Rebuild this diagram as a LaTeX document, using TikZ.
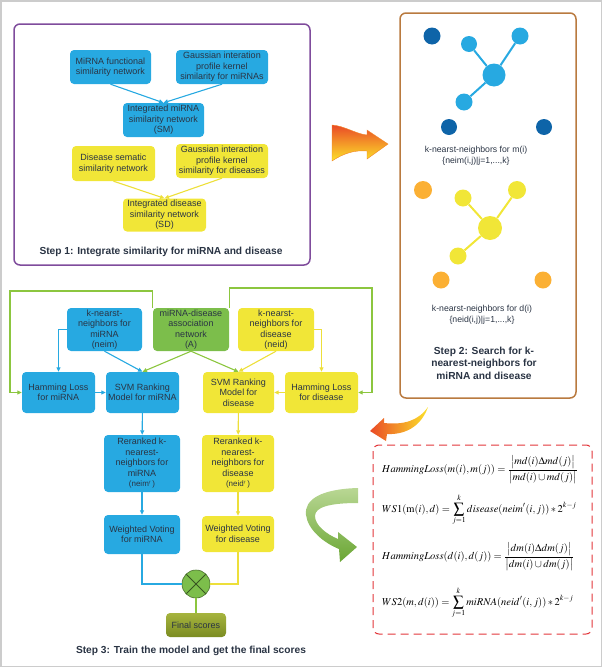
\documentclass[tikz,border=0pt]{standalone}
\usepackage{amsmath}
\usepackage{mathptmx}
\usepackage[no-math]{fontspec}
\setmainfont{Liberation Sans}
\usetikzlibrary{positioning, arrows.meta}

\definecolor{mblue}{HTML}{27A9E1}
\definecolor{dblue}{HTML}{0E64A8}
\definecolor{myellow}{HTML}{F1E637}
\definecolor{ylin}{HTML}{EDDF3A}
\definecolor{morange}{HTML}{FBB034}
\definecolor{mgreen}{HTML}{8CC63F}
\definecolor{agreen}{HTML}{7CBE4B}
\definecolor{mpurple}{HTML}{7F4C9C}
\definecolor{mbrown}{HTML}{B97A3F}
\definecolor{mred}{HTML}{E2363A}
\definecolor{txt}{HTML}{2A3444}
\definecolor{ored}{HTML}{EA4A26}
\definecolor{oyel}{HTML}{FCE22A}
\definecolor{lgreen}{HTML}{B9D794}
\definecolor{dgreen}{HTML}{6AA634}
\definecolor{olivet}{HTML}{A6B43E}
\definecolor{oliveb}{HTML}{7B8C22}

\begin{document}
\begin{tikzpicture}[x=1pt, y=-1pt,
    box/.style={rounded corners=4pt, align=center, inner sep=1pt, text=txt,
        font=\fontsize{9}{10.5}\selectfont},
    bbox/.style={box, fill=mblue},
    ybox/.style={box, fill=myellow},
    dot/.style={circle, inner sep=0pt},
    con/.style={line width=1.1pt, -{Triangle[length=4.5pt,width=4pt]}},
    bcon/.style={con, mblue},
    ycon/.style={con, ylin},
    gcon/.style={con, mgreen},
    steplabel/.style={font=\fontsize{10.2}{12.5}\selectfont\bfseries, text=txt, align=center},
    smalltxt/.style={font=\fontsize{8.7}{10.5}\selectfont, text=txt, align=center},
    formula/.style={anchor=west, inner sep=0pt, font=\fontsize{10.5}{12}\selectfont}]
    \useasboundingbox (0,0) rectangle (602,667);
    \draw[black!20, line width=1.5pt] (0.75,0.75) rectangle (601.25,666.25);

    % step 1
    \draw[mpurple, line width=1.5pt, rounded corners=6pt] (14,24) rectangle (310,265);
    \node[bbox, minimum width=81pt, minimum height=34pt] (mfun) at (110.5,67) {MiRNA functional\\similarity network};
    \node[bbox, minimum width=92pt, minimum height=34pt] (mgip) at (222,67) {Gaussian interation\\profile kernel\\similarity for miRNAs};
    \node[bbox, minimum width=81pt, minimum height=34pt] (sm) at (163.5,120) {Integrated miRNA\\similarity network\\(SM)};
    \node[ybox, minimum width=83pt, minimum height=35pt] (dsem) at (113.5,163.5) {Disease sematic\\similarity network};
    \node[ybox, minimum width=92pt, minimum height=34pt] (dgip) at (222,161) {Gaussian interaction\\profile kernel\\similarity for diseases};
    \node[ybox, minimum width=83pt, minimum height=33pt] (sd) at (164.5,215) {Integrated disease\\similarity network\\(SD)};
    \draw[bcon] (mfun.south) -- (sm.north);
    \draw[bcon] (mgip.south) -- (sm.north);
    \draw[ycon] (dsem.south) -- (sd.north);
    \draw[ycon] (dgip.south) -- (sd.north);
    \node[steplabel] (s1) at (161,252) {Step 1: Integrate similarity for miRNA and disease};

    \shade[top color=ored, bottom color=oyel, draw=ored!60!oyel, line width=0.4pt]
        (332,125) .. controls (345,126) and (356,134) .. (367,135) -- (367,130) -- (388,144)
        -- (367,159) -- (367,151) .. controls (355,150) and (344,153) .. (332,161) -- cycle;

    % step 2
    \draw[mbrown, line width=1.5pt, rounded corners=6pt] (400,13) rectangle (576,398);
    \node[dot, fill=dblue, minimum size=17pt] (m1) at (432,36) {};
    \node[dot, fill=dblue, minimum size=16pt] (m2) at (449,127) {};
    \node[dot, fill=dblue, minimum size=16pt] (m3) at (544,127) {};
    \node[dot, fill=mblue, minimum size=23pt] (mhub) at (494,75) {};
    \node[dot, fill=mblue, minimum size=16pt] (ma) at (469,44) {};
    \node[dot, fill=mblue, minimum size=17pt] (mb) at (520,36) {};
    \node[dot, fill=mblue, minimum size=17pt] (mc) at (464,102) {};
    \draw[mblue, line width=2pt] (mhub) -- (ma);
    \draw[mblue, line width=2pt] (mhub) -- (mb);
    \draw[mblue, line width=2pt] (mhub) -- (mc);
    \node[smalltxt] (mlab) at (476,156) {k-nearst-neighbors for m(i)\\\{neim(i,j)|j=1,...,k\}};

    \node[dot, fill=morange, minimum size=18pt] (d1) at (423,190) {};
    \node[dot, fill=morange, minimum size=17pt] (d2) at (441,280) {};
    \node[dot, fill=morange, minimum size=17pt] (d3) at (543,280) {};
    \node[dot, fill=myellow, minimum size=24pt] (dhub) at (490,228) {};
    \node[dot, fill=myellow, minimum size=17pt] (da) at (463,198) {};
    \node[dot, fill=myellow, minimum size=18pt] (db) at (517,190) {};
    \node[dot, fill=myellow, minimum size=17pt] (dc) at (458,256) {};
    \draw[myellow, line width=2pt] (dhub) -- (da);
    \draw[myellow, line width=2pt] (dhub) -- (db);
    \draw[myellow, line width=2pt] (dhub) -- (dc);
    \node[smalltxt] (dlab) at (482,315) {k-nearst-neighbors for d(i)\\\{neid(i,j)|j=1,...,k\}};
    \node[steplabel] (s2) at (484,363) {Step 2: Search for k-\\nearest-neighbors for\\miRNA and disease};

    \shade[left color=ored, right color=oyel]
        (428,407) .. controls (418,421) and (404,425) .. (384,423) -- (384,418) -- (370,431)
        -- (386,441) -- (387,434) .. controls (408,435) and (422,424) .. (428,407) -- cycle;

    % formulas
    \draw[mred, line width=1pt, dash pattern=on 8pt off 5pt, rounded corners=6pt] (373,445) rectangle (592,634);
    \node[formula] (f1) at (382,470) {$HammingLoss(m(i),m(j))=\dfrac{\bigl|md(i)\Delta md(j)\bigr|}{\bigl|md(i)\cup md(j)\bigr|}$};
    \node[formula] (f2) at (382,510) {$WS1(\mathrm{m}(i),d)=\displaystyle\sum_{j=1}^{k}disease(neim'(i,j))*2^{k-j}$};
    \node[formula] (f3) at (382,557) {$HammingLoss(d(i),d(j))=\dfrac{\bigl|dm(i)\Delta dm(j)\bigr|}{\bigl|dm(i)\cup dm(j)\bigr|}$};
    \node[formula] (f4) at (382,603) {$WS2(m,d(i))=\displaystyle\sum_{j=1}^{k}miRNA(neid'(i,j))*2^{k-j}$};

    \shade[top color=lgreen, bottom color=dgreen]
        (358,488) .. controls (322,489) and (304,499) .. (306,515)
        .. controls (308,530) and (324,543) .. (339,549) -- (340,562) -- (357,547)
        -- (338,532) -- (338,539) .. controls (326,534) and (315,525) .. (315,516)
        .. controls (315,507) and (330,503) .. (358,503) -- cycle;

    % step 3
    \node[bbox, minimum width=75pt, minimum height=43pt] (neim) at (104.5,329.5) {k-nearst-\\neighbors for\\miRNA\\(neim)};
    \node[box, fill=agreen, minimum width=76pt, minimum height=43pt] (assoc) at (191,329.5) {miRNA-disease\\association\\network\\(A)};
    \node[ybox, minimum width=76pt, minimum height=43pt] (neid) at (276,329.5) {k-nearst-\\neighbors for\\disease\\(neid)};
    \node[bbox, minimum width=73pt, minimum height=41pt] (hlm) at (58.5,392.5) {Hamming Loss\\for miRNA};
    \node[bbox, minimum width=73pt, minimum height=41pt] (svmm) at (142.5,392.5) {SVM Ranking\\Model for miRNA};
    \node[ybox, minimum width=71pt, minimum height=41pt] (svmd) at (238.5,392.5) {SVM Ranking\\Model for\\disease};
    \node[ybox, minimum width=73pt, minimum height=41pt] (hld) at (321.5,392.5) {Hamming Loss\\for disease};
    \node[bbox, minimum width=76pt, minimum height=57pt] (rrm) at (142,463.5) {Reranked k-\\nearest-\\neighbors for\\miRNA\\{\footnotesize(neim$'$\,)}};
    \node[ybox, minimum width=72pt, minimum height=57pt] (rrd) at (238,463.5) {Reranked k-\\nearest-\\neighbors for\\disease\\{\footnotesize(neid$'$\,)}};
    \node[bbox, minimum width=76pt, minimum height=39pt] (wvm) at (142,534.5) {Weighted Voting\\for miRNA};
    \node[ybox, minimum width=72pt, minimum height=36pt] (wvd) at (238,534) {Weighted Voting\\for disease};
    \node[circle, fill=agreen, draw=agreen!60!black, line width=0.6pt, minimum size=28pt,
        path picture={\draw[agreen!45!black, line width=0.8pt]
            (path picture bounding box.north west) -- (path picture bounding box.south east)
            (path picture bounding box.north east) -- (path picture bounding box.south west);}] (cx) at (196,584) {};
    \node[box, top color=olivet, bottom color=oliveb, minimum width=60pt, minimum height=24pt] (final) at (196,625) {Final scores};
    \node[steplabel] (s3) at (191,651) {Step 3: Train the model and get the final scores};

    \coordinate (gl) at (10,291);
    \coordinate (gr) at (372,288);
    \draw[gcon] (assoc.north west) |- (gl) |- (hlm.west);
    \draw[gcon] (assoc.north east) |- (gr) |- (hld.east);
    \draw[bcon] (neim.west) -| (hlm.north);
    \draw[ycon] (neid.east) -| (hld.north);
    \draw[bcon] (neim.south) -- (svmm.north);
    \draw[gcon] (assoc.south) -- (svmm.north);
    \draw[gcon] (assoc.south) -- (svmd.north);
    \draw[ycon] (neid.south) -- (svmd.north);
    \draw[bcon] (hlm) -- (svmm);
    \draw[ycon] (hld) -- (svmd);
    \draw[bcon] (svmm) -- (rrm);
    \draw[bcon] (rrm) -- (wvm);
    \draw[ycon] (svmd) -- (rrd);
    \draw[ycon] (rrd) -- (wvd);
    \draw[mblue, line width=1.1pt] (wvm.south) |- (cx.west);
    \draw[ylin, line width=1.1pt] (wvd.south) |- (cx.east);
    \draw[mgreen, line width=1.1pt] (cx) -- (final);
\end{tikzpicture}
\end{document}
